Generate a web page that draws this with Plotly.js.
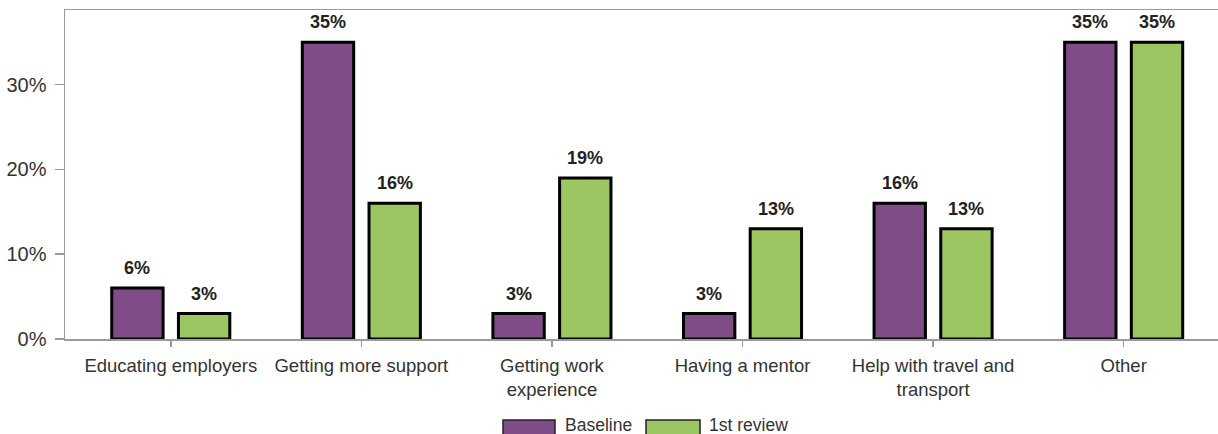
<!DOCTYPE html>
<html>
<head>
<meta charset="utf-8">
<script src="https://cdn.plot.ly/plotly-3.0.1.min.js"></script>
<style>html,body{margin:0;padding:0;background:#fff;}#chart{width:1218px;height:434px;}</style>
</head>
<body>
<div id="chart"></div>
<script>
const categories = ["Educating employers", "Getting more support", "Getting work<br>experience", "Having a mentor", "Help with travel and<br>transport", "Other"];
const baseline = [6, 35, 3, 3, 16, 35];
const review1 = [3, 16, 19, 13, 13, 35];
const seriesNames = ["Baseline", "1st review"];
const seriesColors = ["#7F4C88", "#9CC662"];
const yTicks = [0, 10, 20, 30];
const yTickText = ["0%", "10%", "20%", "30%"];

const FONT = "Liberation Sans, Arial, sans-serif";
const W = 1218, H = 434, ml = 65, mr = 0, mt = 10, mb = 95;
const pw = W - ml - mr, ph = H - mt - mb;
const xRange = [-0.555, 5.495];
const BARGAP = 0.3;
const catPx = pw / (xRange[1] - xRange[0]);
const groupOffset = (1 - BARGAP) / 4 * catPx;

function mk(name, vals, color) {
  return {
    type: "bar",
    name: name,
    x: categories,
    y: vals,
    marker: {color: color, line: {color: "#000", width: 3}},
    hoverinfo: "skip"
  };
}

const data = [mk(seriesNames[0], baseline, seriesColors[0]), mk(seriesNames[1], review1, seriesColors[1])];

const shapes = [];
const annotations = [];

// value labels
[baseline, review1].forEach((vals, s) => {
  vals.forEach((v, i) => {
    annotations.push({
      x: categories[i], y: v, xref: "x", yref: "y",
      xshift: (s === 0 ? -1 : 1) * groupOffset, yshift: 8,
      xanchor: "center", yanchor: "bottom", showarrow: false,
      text: "<b>" + v + "%</b>",
      font: {family: FONT, size: 18, color: "#222"}
    });
  });
});

// custom legend (wide swatches)
const legendItems = [
  {x0: 503, x1: 555, tx: 563},
  {x0: 646, x1: 700, tx: 707}
];
function px2paperX(p) { return (p - ml) / pw; }
function py2paperY(p) { return (H - mb - p) / ph; }
legendItems.forEach((it, i) => {
  shapes.push({
    type: "rect", xref: "paper", yref: "paper",
    x0: px2paperX(it.x0), x1: px2paperX(it.x1),
    y0: py2paperY(436), y1: py2paperY(420),
    fillcolor: seriesColors[i], line: {color: "#222", width: 1.5}
  });
  annotations.push({
    xref: "paper", yref: "paper", x: px2paperX(it.tx), y: py2paperY(425),
    xanchor: "left", yanchor: "middle", showarrow: false,
    text: seriesNames[i], font: {family: FONT, size: 17.5, color: "#333"}
  });
});

const layout = {
  width: W, height: H,
  margin: {l: ml, r: mr, t: mt, b: mb, pad: 0},
  paper_bgcolor: "#fff", plot_bgcolor: "#fff",
  showlegend: false,
  barmode: "group",
  bargap: BARGAP,
  bargroupgap: 0.23,
  font: {family: FONT, color: "#333"},
  xaxis: {
    type: "category",
    range: xRange,
    showline: true, linecolor: "#9a9a9a", linewidth: 1.5, mirror: true,
    ticks: "outside", ticklen: 6, tickcolor: "#9a9a9a", tickwidth: 1.5,
    ticklabelstandoff: 3,
    tickfont: {family: FONT, size: 18.5, color: "#333"},
    showgrid: false, zeroline: false, fixedrange: true
  },
  yaxis: {
    range: [0, 38.8],
    tickvals: yTicks, ticktext: yTickText,
    showline: true, linecolor: "#9a9a9a", linewidth: 1.5,
    ticks: "outside", ticklen: 9, tickcolor: "#9a9a9a", tickwidth: 1.5,
    ticklabelstandoff: 4,
    tickfont: {family: FONT, size: 20, color: "#333"},
    showgrid: false, zeroline: false, fixedrange: true
  },
  shapes: shapes,
  annotations: annotations
};

Plotly.newPlot("chart", data, layout, {displayModeBar: false, staticPlot: true});
</script>
</body>
</html>
